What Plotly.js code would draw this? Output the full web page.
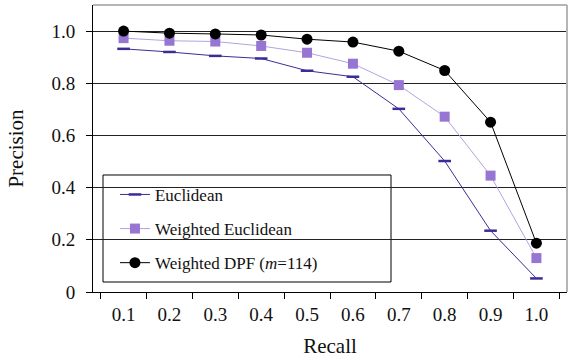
<!DOCTYPE html>
<html><head><meta charset="utf-8">
<script src="https://cdn.plot.ly/plotly-3.0.1.min.js"></script>
<style>html,body{margin:0;padding:0;background:#fff}#chart{width:568px;height:361px}</style>
</head><body><div id="chart"></div>
<script>
const recall = ["0.1","0.2","0.3","0.4","0.5","0.6","0.7","0.8","0.9","1.0"];
const euclidean = [0.932,0.920,0.905,0.895,0.848,0.825,0.702,0.502,0.235,0.052];
const weightedEuclidean = [0.973,0.963,0.960,0.943,0.917,0.875,0.793,0.672,0.446,0.130];
const weightedDPF = [1.000,0.992,0.989,0.985,0.969,0.958,0.923,0.849,0.651,0.187];
const yTickVals = [0,0.2,0.4,0.6,0.8,1.0];
const yTickText = ["0","0.2","0.4","0.6","0.8","1.0"];

const font = {family: "Liberation Serif", color: "#111"};
const traces = [
  {x: recall, y: euclidean, name: "Euclidean", type: "scatter", mode: "lines+markers", legendgroup: "a",
   line: {color: "#3b2c96", width: 1},
   marker: {symbol: "line-ew", size: 9, line: {color: "#3b2c96", width: 2.5}}},
  {x: recall, y: weightedEuclidean, name: "Weighted Euclidean", type: "scatter", mode: "lines+markers", legendgroup: "b",
   line: {color: "#b3a3e0", width: 1},
   marker: {symbol: "square", size: 10, color: "#9775d3"}},
  {x: recall, y: weightedDPF, name: "Weighted DPF (<i>m</i>=114)", type: "scatter", mode: "lines+markers", legendgroup: "c",
   line: {color: "#000", width: 1},
   marker: {symbol: "circle", size: 11, color: "#000"}}
];
const layout = {
  width: 568, height: 361,
  margin: {l: 93, r: 1, t: 5, b: 69},
  paper_bgcolor: "#fff", plot_bgcolor: "#fff",
  font: Object.assign({size: 15}, font),
  showlegend: true,
  legend: {x: 0.021, y: 0.401, xanchor: "left", yanchor: "top", bgcolor: "rgba(0,0,0,0)",
           borderwidth: 0, font: Object.assign({size: 17}, font),
           traceorder: "grouped", tracegroupgap: 9, indentation: 12},
  xaxis: {type: "category", tickson: "boundaries", ticks: "outside", ticklen: 6, tickcolor: "#000",
          showline: true, linecolor: "#000", linewidth: 1, showgrid: false, zeroline: false,
          ticklabelstandoff: 5,
          tickfont: Object.assign({size: 19}, font),
          title: {text: "Recall", font: Object.assign({size: 21}, font), standoff: 14}},
  yaxis: {range: [0, 1.1], tickvals: yTickVals, ticktext: yTickText, ticks: "outside", ticklen: 6, tickcolor: "#000",
          showline: true, linecolor: "#000", linewidth: 1, showgrid: true, gridcolor: "#222", gridwidth: 1,
          zeroline: false, ticklabelstandoff: 7, tickfont: Object.assign({size: 19}, font),
          title: {text: "Precision", font: Object.assign({size: 21}, font), standoff: 22}},
  shapes: [
    {type: "rect", xref: "paper", yref: "paper", x0: 0.0211, x1: 0.6287, y0: 0.0348, y1: 0.4077,
     layer: "between", fillcolor: "#fff", line: {color: "#000", width: 1}},
    {type: "line", xref: "paper", yref: "paper", x0: 0, x1: 1, y0: 1, y1: 1, line: {color: "#b5b5b5", width: 2}},
    {type: "line", xref: "paper", yref: "paper", x0: 1, x1: 1, y0: 0, y1: 1, line: {color: "#b5b5b5", width: 2}}
  ]
};
Plotly.newPlot("chart", traces, layout, {displayModeBar: false, staticPlot: true});
</script></body></html>
